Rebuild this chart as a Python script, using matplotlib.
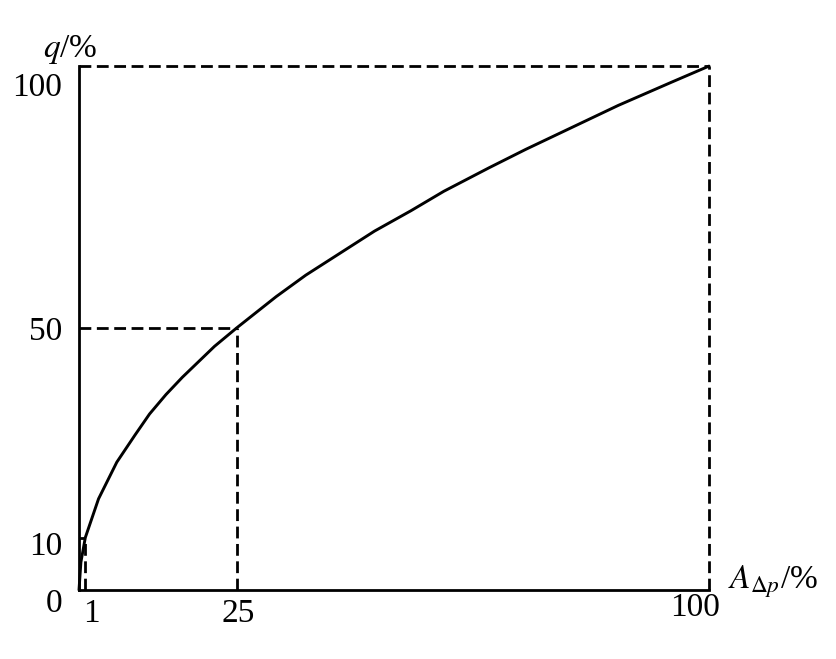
import matplotlib.pyplot as plt

plt.rcParams['mathtext.fontset'] = 'stix'
plt.rcParams['font.family'] = ['Liberation Serif', 'DejaVu Serif']
plt.rcParams['lines.scale_dashes'] = False

# Courbe : débit relatif q (%) en fonction de A_dp (%)
a_dp = [0, 0.3, 1, 3.1, 6.0, 8.9, 11.2, 13.8, 16.4, 21.5, 25, 31.3, 36.0, 46.9,
        52.7, 57.9, 65.1, 70.9, 85.6, 94.0, 100]
q = [0, 5.3, 10, 17.4, 24.4, 29.6, 33.6, 37.3, 40.6, 46.5, 50, 56.0, 60.1, 68.5,
     72.4, 76.1, 80.6, 84.1, 92.5, 96.9, 100]

# Points repères (traits pointillés)
repere_x = [1, 25, 100]
repere_y = [10, 50, 100]

# Graduations
ticks_x = [1, 25, 100]
ticks_y = [0, 10, 50, 100]
# décalages des étiquettes (pixels)
decal_x = [(6, -24), (2, -24), (-14, -18)]
decal_y = [(-17, -14), (-17, -9), (-17, -4), (-17, -22)]

fig = plt.figure(figsize=(8.36, 6.59), dpi=100)
ax = fig.add_axes([0.0945, 0.1047, 0.7536, 0.795])
ax.set_xlim(0, 100)
ax.set_ylim(0, 100)

for s in ['top', 'right']:
    ax.spines[s].set_visible(False)
for s in ['left', 'bottom']:
    ax.spines[s].set_linewidth(2.0)
ax.set_xticks([])
ax.set_yticks([])

# Courbe
ax.plot(a_dp, q, color='black', lw=2.1, clip_on=False, solid_capstyle='round',
        solid_joinstyle='round')

# Pointillés
style = dict(color='black', lw=2.0, dashes=(8.5, 4), clip_on=False)
for xr, yr in zip(repere_x, repere_y):
    ax.plot([0, xr], [yr, yr], **style)
    ax.plot([xr, xr], [0, yr], **style)

# Etiquettes
fs = 24
for v, (dx, dy) in zip(ticks_x, decal_x):
    ax.annotate(str(v), xy=(v, 0), xytext=(dx, dy), textcoords='offset pixels',
                ha='center', va='center', fontsize=fs, annotation_clip=False)
for v, (dx, dy) in zip(ticks_y, decal_y):
    ax.annotate(str(v), xy=(0, v), xytext=(dx, dy), textcoords='offset pixels',
                ha='right', va='center', fontsize=fs, annotation_clip=False)

fig.text(43 / 836, 1 - 50 / 659, '$q$/%', fontsize=fs, ha='left', va='center')
fig.text(728 / 836, 1 - 582 / 659, r'$A_{\Delta p}$/%', fontsize=fs, ha='left', va='center')

fig.savefig('out.png', dpi=100)
